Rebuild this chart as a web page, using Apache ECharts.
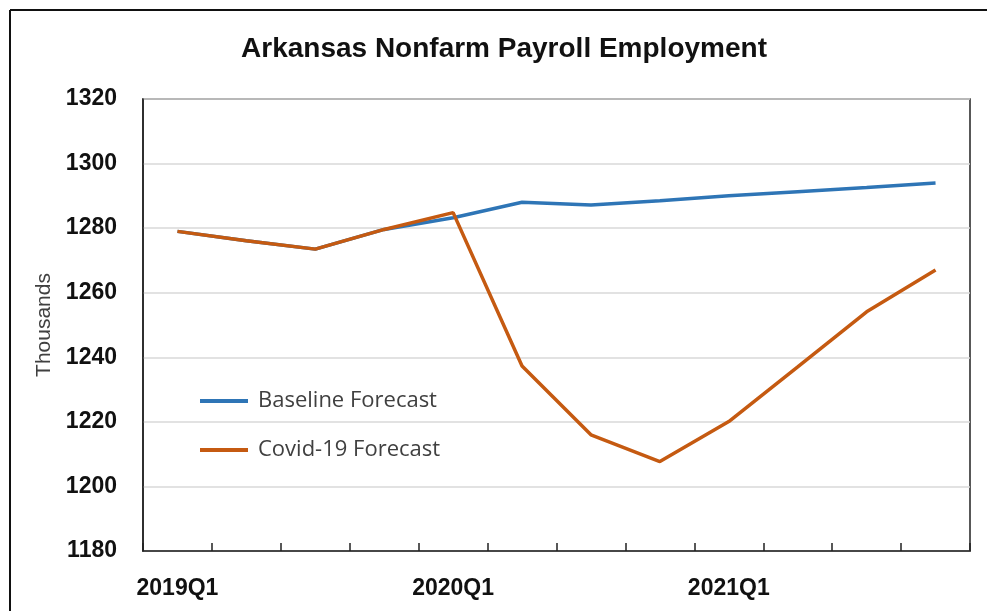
<!DOCTYPE html>
<html>
<head>
<meta charset="utf-8">
<script src="https://cdn.jsdelivr.net/npm/echarts@6/dist/echarts.min.js"></script>
<style>
  html, body { margin: 0; padding: 0; background: #fff; }
  #chart { width: 987px; height: 611px; }
</style>
</head>
<body>
<div id="chart"></div>
<script>
// Quarterly categories, 2019Q1 through 2021Q4
const quarters = [
  '2019Q1', '2019Q2', '2019Q3', '2019Q4',
  '2020Q1', '2020Q2', '2020Q3', '2020Q4',
  '2021Q1', '2021Q2', '2021Q3', '2021Q4'
];

// Nonfarm payroll employment, thousands
const baselineForecast = [1279, 1276.1, 1273.5, 1279.6, 1283.2, 1288.0, 1287.2, 1288.5, 1290.0, 1291.3, 1292.6, 1294.0];
const covidForecast    = [1279, 1276.1, 1273.5, 1279.6, 1284.8, 1237.3, 1216.0, 1207.7, 1220.1, 1237.0, 1254.1, 1267.0];

// Value axis scale
const yMin = 1180;
const yMax = 1320;
const yStep = 20;

const seriesNames = ['Baseline Forecast', 'Covid-19 Forecast'];
const seriesColors = ['#2e75b6', '#c55a11'];

const chart = echarts.init(document.getElementById('chart'), null, { renderer: 'canvas' });

const boldFont = "'Liberation Sans', Arial, sans-serif";

chart.setOption({
  animation: false,
  backgroundColor: '#ffffff',
  title: {
    text: 'Arkansas Nonfarm Payroll Employment',
    left: 499,
    top: 30,
    textAlign: 'center',
    textStyle: {
      fontFamily: boldFont,
      fontWeight: 'bold',
      fontSize: 28,
      color: '#111'
    }
  },
  legend: {
    orient: 'vertical',
    left: 200,
    top: 388,
    padding: 0,
    itemGap: 23,
    itemWidth: 48,
    itemHeight: 4,
    icon: 'rect',
    data: seriesNames,
    textStyle: {
      fontFamily: "'Open Sans', 'Liberation Sans', sans-serif",
      fontSize: 22,
      lineHeight: 26,
      color: '#404040',
      padding: [0, 0, 0, 5]
    }
  },
  grid: {
    left: 143,
    right: 17,
    top: 99,
    bottom: 60,
    show: true,
    borderColor: '#222',
    borderWidth: 1.5,
    containLabel: false
  },
  xAxis: {
    type: 'category',
    data: quarters,
    boundaryGap: true,
    axisLine: { show: true, lineStyle: { color: '#222', width: 1.5 } },
    axisTick: {
      show: true,
      inside: true,
      length: 8,
      interval: 0,
      alignWithLabel: false,
      lineStyle: { color: '#222', width: 1.5 }
    },
    axisLabel: {
      interval: 3,
      margin: 26,
      fontFamily: boldFont,
      fontWeight: 'bold',
      fontSize: 23,
      color: '#111'
    },
    splitLine: { show: false }
  },
  yAxis: {
    type: 'value',
    min: yMin,
    max: yMax,
    interval: yStep,
    name: 'Thousands',
    nameLocation: 'middle',
    nameGap: 87,
    nameTextStyle: {
      fontFamily: "'Liberation Sans', Arial, sans-serif",
      fontSize: 21,
      color: '#404040'
    },
    axisLine: { show: true, lineStyle: { color: '#222', width: 1.5 } },
    axisTick: { show: false },
    axisLabel: {
      margin: 26,
      formatter: (v) => String(v),
      fontFamily: boldFont,
      fontWeight: 'bold',
      fontSize: 23,
      color: '#111'
    },
    splitLine: { show: true, lineStyle: { color: '#d9d9d9', width: 1.5 } }
  },
  series: [
    {
      name: seriesNames[0],
      type: 'line',
      data: baselineForecast,
      symbol: 'none',
      color: seriesColors[0],
      lineStyle: { width: 3.5, color: seriesColors[0] }
    },
    {
      name: seriesNames[1],
      type: 'line',
      data: covidForecast,
      symbol: 'none',
      color: seriesColors[1],
      lineStyle: { width: 3.5, color: seriesColors[1] }
    }
  ],
  graphic: [
    // outer frame along the top and left edges
    {
      type: 'line',
      shape: { x1: 10, y1: 10, x2: 987, y2: 10 },
      style: { stroke: '#111', lineWidth: 2 }
    },
    {
      type: 'line',
      shape: { x1: 10, y1: 10, x2: 10, y2: 611 },
      style: { stroke: '#111', lineWidth: 2 }
    }
  ]
});
</script>
</body>
</html>
